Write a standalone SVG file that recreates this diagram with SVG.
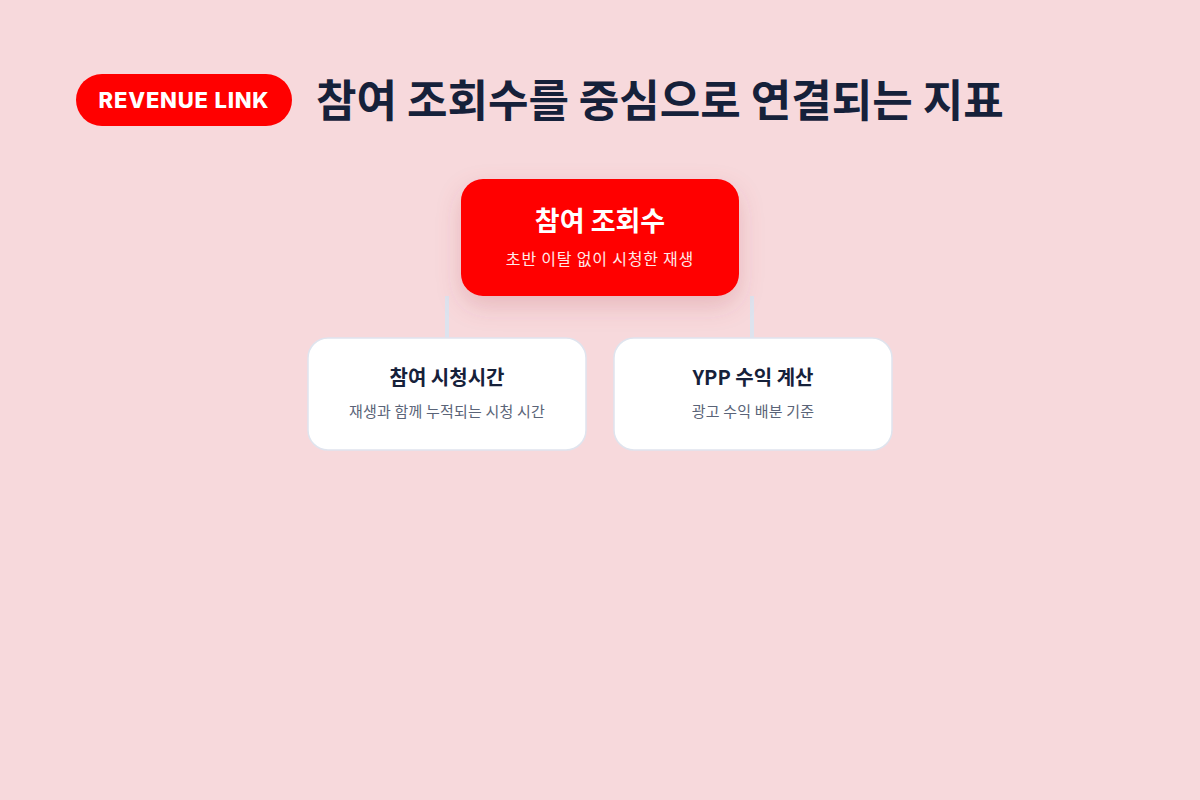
<svg xmlns="http://www.w3.org/2000/svg" width="1200" height="800" viewBox="0 0 1200 800">
<defs>
<filter id="sh" x="-30%" y="-30%" width="160%" height="180%">
<feDropShadow dx="0" dy="10" stdDeviation="12" flood-color="#b04050" flood-opacity="0.22"/>
</filter>
<style>
.f{font-family:"Noto Sans CJK KR","Noto Sans",sans-serif}
.pill{font-family:"Inter","Noto Sans",sans-serif;font-weight:800;font-size:22px;fill:#fff;letter-spacing:0.8px}
.ttl{font-weight:700;font-size:44px;fill:#16213a;letter-spacing:0px}
.mt{font-weight:700;font-size:27px;fill:#fff;letter-spacing:0px}
.ms{font-size:16px;fill:#ffe9e9;letter-spacing:0.8px}
.ct{font-weight:700;font-size:20px;fill:#16213a;letter-spacing:0px}
.cs{font-size:15px;fill:#5a6478;letter-spacing:0.2px}
.card{fill:#fff;stroke:#dfe4ee;stroke-width:1.5}
.ln{stroke:#dde3ee;stroke-width:4;fill:none}
</style>
</defs>
<rect width="1200" height="800" fill="#f7d9dc"/>
<g id="header">
<rect x="76" y="74" width="216" height="52" rx="26" fill="#ff0000"/>
<text class="pill" x="184" y="108" text-anchor="middle">REVENUE LINK</text>
<text class="f ttl" x="316" y="117">참여 조회수를 중심으로 연결되는 지표</text>
</g>
<g id="connectors">
<line class="ln" x1="447" y1="296" x2="447" y2="338"/>
<line class="ln" x1="752" y1="296" x2="752" y2="338"/>
</g>
<g id="node-main">
<rect x="461" y="179" width="278" height="117" rx="22" fill="#ff0000" filter="url(#sh)"/>
<text class="f mt" x="600" y="231" text-anchor="middle">참여 조회수</text>
<text class="f ms" x="600" y="265" text-anchor="middle">초반 이탈 없이 시청한 재생</text>
</g>
<g id="node-watchtime">
<rect class="card" x="308" y="338" width="278" height="112" rx="20"/>
<text class="f ct" x="447" y="385" text-anchor="middle">참여 시청시간</text>
<text class="f cs" x="447" y="417" text-anchor="middle">재생과 함께 누적되는 시청 시간</text>
</g>
<g id="node-ypp">
<rect class="card" x="614" y="338" width="278" height="112" rx="20"/>
<text class="f ct" x="753" y="385" text-anchor="middle">YPP 수익 계산</text>
<text class="f cs" x="753" y="417" text-anchor="middle">광고 수익 배분 기준</text>
</g>
</svg>
